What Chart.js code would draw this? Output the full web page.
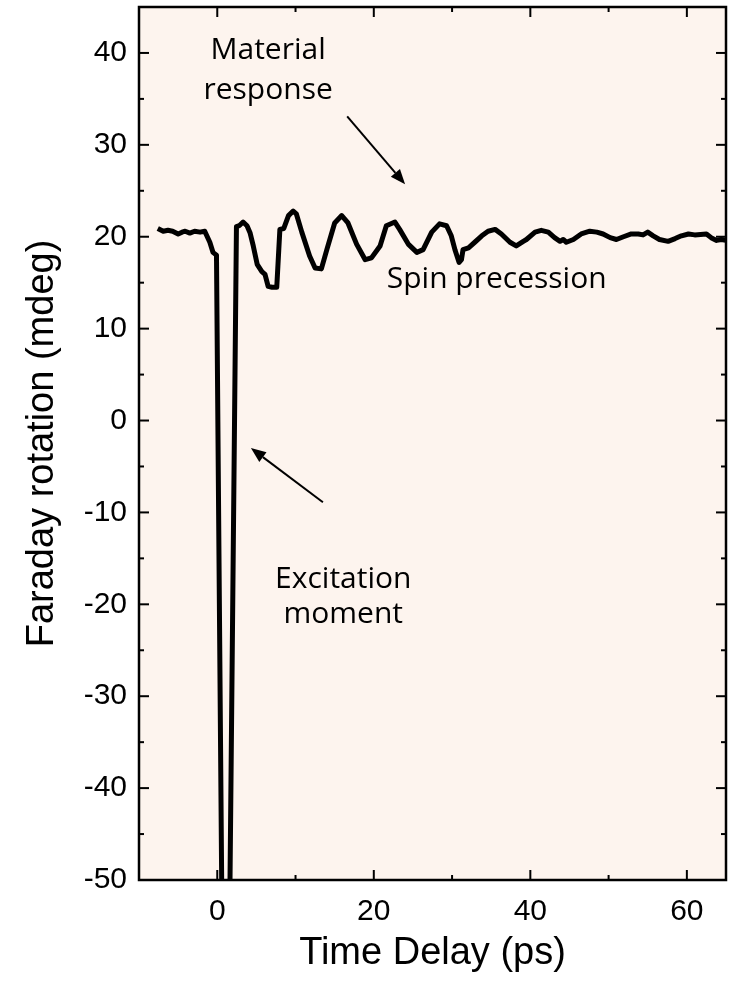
<!DOCTYPE html>
<html><head><meta charset="utf-8">
<script src="https://cdn.jsdelivr.net/npm/chart.js@4/dist/chart.umd.min.js"></script>
<style>html,body{margin:0;padding:0;background:#fff}</style>
</head><body>
<canvas id="c" width="733" height="991"></canvas>
<script>
// ---- data ----
const timeDelay = [-7.6,-6.9,-6.3,-5.7,-5.0,-4.5,-4.1,-3.5,-2.9,-2.2,-1.6,-0.95,-0.55,-0.1,1.05,2.45,2.8,3.3,3.8,4.2,4.6,5.1,5.7,6.1,6.5,7.0,7.6,8.0,8.5,9.1,9.7,10.1,10.8,11.8,12.5,13.3,14.0,15.0,15.9,16.7,17.8,18.9,19.7,20.8,21.6,22.7,23.3,24.4,25.5,26.3,27.4,28.4,29.3,29.9,30.4,30.9,31.2,31.4,32.1,32.9,33.8,34.6,35.5,36.3,37.4,38.2,39.1,39.5,40.6,41.4,42.3,43.1,43.8,44.2,44.6,45.5,46.5,47.6,48.5,49.3,50.2,51.0,51.9,52.9,53.8,54.4,55.0,55.7,56.5,57.6,58.5,59.3,60.2,61.0,62.5,63.1,63.8,64.4,65.0];
const faradayRotation = [20.9,20.6,20.7,20.6,20.3,20.5,20.6,20.4,20.6,20.5,20.6,19.4,18.3,18.0,-100,21.1,21.2,21.6,21.2,20.4,19.0,17.0,16.2,15.9,14.6,14.5,14.5,20.8,20.9,22.3,22.8,22.5,20.5,17.9,16.6,16.5,18.6,21.5,22.3,21.5,19.2,17.5,17.7,19.0,21.2,21.6,20.8,19.2,18.3,18.6,20.5,21.4,21.2,20.1,18.5,17.2,17.5,18.6,18.8,19.4,20.1,20.6,20.8,20.3,19.4,19.0,19.5,19.7,20.5,20.7,20.5,19.9,19.5,19.7,19.4,19.7,20.3,20.6,20.5,20.3,19.9,19.7,20.0,20.3,20.3,20.2,20.5,20.1,19.7,19.5,19.8,20.1,20.3,20.2,20.3,19.9,19.6,19.7,19.6];
const xTickLabels = [0, 20, 40, 60];
const xMinorTicks = [10, 30, 50];
const yTickLabels = [-50, -40, -30, -20, -10, 0, 10, 20, 30, 40];
const yMinorTicks = [-45, -35, -25, -15, -5, 5, 15, 25, 35];
const xTitle = 'Time Delay (ps)';
const yTitle = 'Faraday rotation (mdeg)';
const textNotes = [
  {text: 'Material', x: 6.5, y: 39.3},
  {text: 'response', x: 6.5, y: 35.0},
  {text: 'Spin precession', x: 35.7, y: 14.4},
  {text: 'Excitation', x: 16.1, y: -18.2},
  {text: 'moment', x: 16.1, y: -22.0}
];
const arrowNotes = [
  {from: [16.6, 33.1], to: [24.0, 25.7]},
  {from: [13.5, -8.9], to: [4.3, -3.0]}
];

const points = timeDelay.map((t, i) => ({x: t, y: faradayRotation[i]}));

const framePlugin = {
  id: 'frame',
  beforeDraw(chart) {
    const {ctx, chartArea: a} = chart;
    ctx.save();
    ctx.fillStyle = '#fdf4ee';
    ctx.fillRect(a.left, a.top, a.right - a.left, a.bottom - a.top);
    ctx.restore();
  },
  afterDatasetsDraw(chart) {
    const {ctx, chartArea: a, scales: {x, y}} = chart;
    ctx.save();
    ctx.fillStyle = '#000';
    ctx.font = '30px "Open Sans"';
    ctx.textAlign = 'center';
    ctx.textBaseline = 'alphabetic';
    textNotes.forEach(n => ctx.fillText(n.text, x.getPixelForValue(n.x), y.getPixelForValue(n.y)));
    ctx.strokeStyle = '#000';
    ctx.lineWidth = 2;
    arrowNotes.forEach(n => {
      const x1 = x.getPixelForValue(n.from[0]), y1 = y.getPixelForValue(n.from[1]);
      const x2 = x.getPixelForValue(n.to[0]), y2 = y.getPixelForValue(n.to[1]);
      const ang = Math.atan2(y2 - y1, x2 - x1);
      const hl = 15, hw = 6;
      const bx = x2 - hl * Math.cos(ang), by = y2 - hl * Math.sin(ang);
      ctx.beginPath(); ctx.moveTo(x1, y1); ctx.lineTo(bx, by); ctx.stroke();
      ctx.beginPath();
      ctx.moveTo(x2, y2);
      ctx.lineTo(bx + hw * Math.sin(ang), by - hw * Math.cos(ang));
      ctx.lineTo(bx - hw * Math.sin(ang), by + hw * Math.cos(ang));
      ctx.closePath(); ctx.fill();
    });
    ctx.lineWidth = 2;
    const tick = (px, py, dx, dy) => { ctx.beginPath(); ctx.moveTo(px, py); ctx.lineTo(px + dx, py + dy); ctx.stroke(); };
    xTickLabels.forEach(v => { const p = x.getPixelForValue(v); tick(p, a.bottom, 0, -10); tick(p, a.top, 0, 10); });
    xMinorTicks.forEach(v => { const p = x.getPixelForValue(v); tick(p, a.bottom, 0, -5); tick(p, a.top, 0, 5); });
    yTickLabels.forEach(v => { const p = y.getPixelForValue(v); tick(a.left, p, 10, 0); tick(a.right, p, -10, 0); });
    yMinorTicks.forEach(v => { const p = y.getPixelForValue(v); tick(a.left, p, 5, 0); tick(a.right, p, -5, 0); });
    ctx.lineWidth = 2.5;
    ctx.strokeRect(a.left, a.top, a.right - a.left, a.bottom - a.top);
    ctx.restore();
  }
};

const noPad = s => { s.paddingTop = 0; s.paddingBottom = 0; s.paddingLeft = 0; s.paddingRight = 0; };

new Chart(document.getElementById('c'), {
  type: 'line',
  data: {datasets: [{data: points, borderColor: '#000', borderWidth: 5, pointRadius: 0, tension: 0, fill: false, borderJoinStyle: 'round'}]},
  options: {
    responsive: false,
    animation: false,
    devicePixelRatio: 1,
    layout: {padding: {top: 7, right: 7, left: 0, bottom: 0}},
    plugins: {legend: {display: false}, tooltip: {enabled: false}},
    scales: {
      x: {
        type: 'linear', min: -10, max: 65,
        grid: {display: false, drawTicks: false}, border: {display: false},
        afterBuildTicks: s => { s.ticks = xTickLabels.map(v => ({value: v})); },
        afterFit: s => { s.height = 111; noPad(s); },
        ticks: {color: '#000', font: {family: '"Liberation Sans", Arial', size: 30}, padding: 14, maxRotation: 0, autoSkip: false},
        title: {display: true, text: xTitle, color: '#000', font: {family: '"Liberation Sans", Arial', size: 38}, padding: {top: 0, bottom: 15}}
      },
      y: {
        type: 'linear', min: -50, max: 45,
        grid: {display: false, drawTicks: false}, border: {display: false},
        afterBuildTicks: s => { s.ticks = yTickLabels.map(v => ({value: v})); },
        afterFit: s => { s.width = 139; noPad(s); },
        ticks: {color: '#000', font: {family: '"Liberation Sans", Arial', size: 30}, padding: 12, autoSkip: false},
        title: {display: true, text: yTitle, color: '#000', font: {family: '"Liberation Sans", Arial', size: 38}, padding: {top: 20, bottom: 0}}
      }
    }
  },
  plugins: [framePlugin]
});
</script>
</body></html>
